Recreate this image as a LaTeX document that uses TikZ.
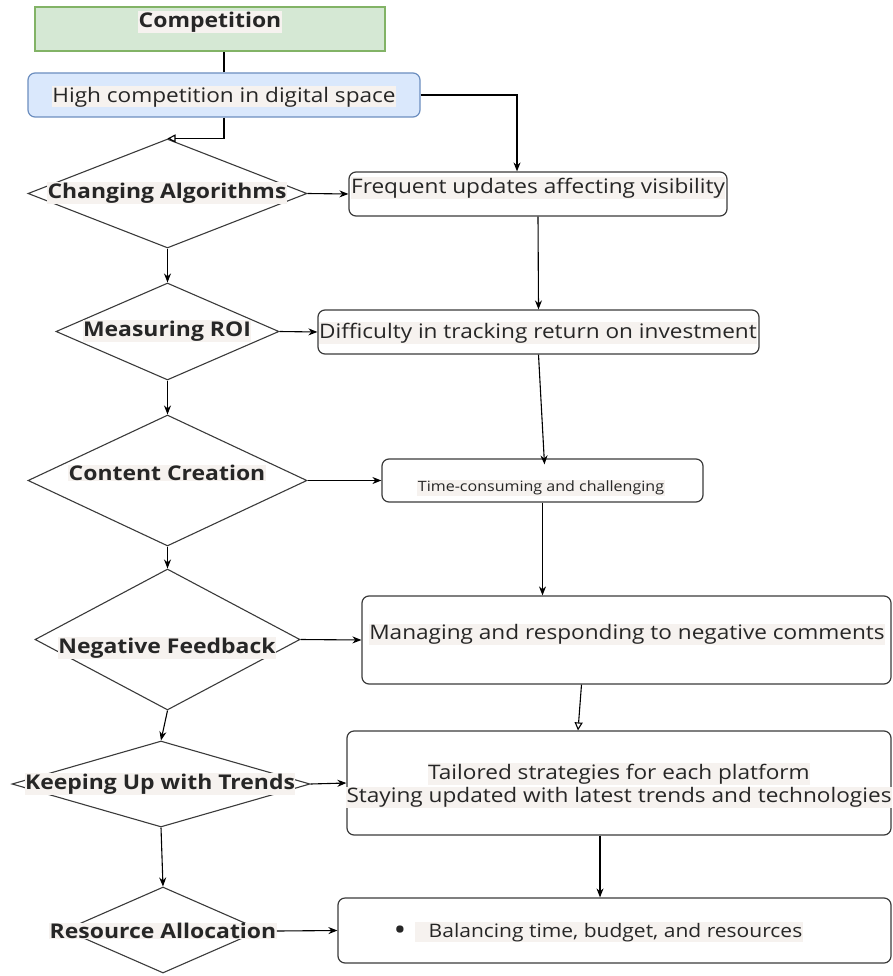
\documentclass[tikz,border=0pt]{standalone}
\usepackage{fontspec}
\setmainfont{Open Sans}[FakeStretch=1.13]
\usetikzlibrary{shapes.geometric,arrows.meta}
\definecolor{gfill}{HTML}{D5E8D4}
\definecolor{gline}{HTML}{82B366}
\definecolor{bfill}{HTML}{DAE8FC}
\definecolor{bline}{HTML}{6C8EBF}
\definecolor{lbg}{HTML}{F6F2EF}
\definecolor{edge}{HTML}{3A3A3A}
\begin{document}
\begin{tikzpicture}[x=1pt,y=-1pt,
  box/.style={draw=edge,line width=1.2pt,rounded corners=7pt,inner sep=0pt},
  dia/.style={draw=edge,line width=1.1pt,diamond,inner sep=0pt},
  lab/.style={fill=lbg,inner sep=0.5pt,text=black!85},
  blab/.style={lab,font=\bfseries\fontsize{20.3}{24}\selectfont},
  nlab/.style={lab,font=\fontsize{20}{24}\selectfont},
  arr/.style={-{Stealth[length=9pt,width=7pt]},line width=1.1pt,black},
  oarr/.style={-{Triangle[open,length=8pt,width=8pt]},line width=1.1pt,black},
  ln/.style={line width=1.1pt,black}]
\useasboundingbox (0,0) rectangle (893,976);
% boxes
\node[draw=gline,fill=gfill,line width=1.2pt,minimum width=350pt,minimum height=44pt,inner sep=0pt] (comp) at (210,29) {};
\node[box,draw=bline,fill=bfill,minimum width=392pt,minimum height=44pt] (hc) at (224,95) {};
\node[box,minimum width=378pt,minimum height=44pt] (f1) at (538,194) {};
\node[box,minimum width=441pt,minimum height=44pt] (f2) at (538.5,332) {};
\node[box,minimum width=321pt,minimum height=43pt] (f3) at (542.5,480.5) {};
\node[box,minimum width=529pt,minimum height=88pt] (f4) at (626.5,640) {};
\node[box,minimum width=544pt,minimum height=104pt] (f5) at (619,783) {};
\node[box,minimum width=553pt,minimum height=65pt] (f6) at (614.5,930.5) {};
% diamonds
\node[dia,minimum width=279pt,minimum height=109pt] (d1) at (167.5,193.5) {};
\node[dia,minimum width=223pt,minimum height=97pt] (d2) at (167.5,331.5) {};
\node[dia,minimum width=279pt,minimum height=131pt] (d3) at (167.5,480.5) {};
\node[dia,minimum width=265pt,minimum height=141pt] (d4) at (167.5,639.5) {};
\node[dia,minimum width=298pt,minimum height=86pt] (d5) at (161,784) {};
\node[dia,minimum width=196pt,minimum height=86pt] (d6) at (163,930) {};
% labels
\node[blab] (tcomp) at (210,22) {Competition};
\node[nlab] (thc) at (224,97) {High competition in digital space};
\node[blab] (td1) at (167,193) {Changing Algorithms};
\node[nlab] (tf1) at (538,188) {Frequent updates affecting visibility};
\node[blab] (td2) at (167,331) {Measuring ROI};
\node[nlab] (tf2) at (538,333) {Difficulty in tracking return on investment};
\node[blab] (td3) at (167,473) {Content Creation};
\node[lab,font=\fontsize{14.2}{17}\selectfont] (tf3) at (541,488) {Time-consuming and challenging};
\node[blab] (td4) at (167,648) {Negative Feedback};
\node[nlab] (tf4) at (627,634) {Managing and responding to negative comments};
\node[blab] (td5) at (160,784) {Keeping Up with Trends};
\node[nlab] (tf5a) at (619,774) {Tailored strategies for each platform};
\node[nlab] (tf5b) at (619,797) {Staying updated with latest trends and technologies};
\node[blab] (td6) at (163,931) {Resource Allocation};
\node[lab,font=\fontsize{18.6}{22}\selectfont,anchor=base west] (tf6) at (415,937) {\hspace{13pt}Balancing time, budget, and resources};
\node[font=\fontsize{30}{30}\selectfont,text=black!85,inner sep=0pt,anchor=base] (bul) at (400,940) {•};
% connectors
\draw[ln] (hc.north) -- (hc.north |- comp.south);
\draw[oarr] (hc.south) |- (d1.north);
\coordinate (f1in) at ([xshift=-21pt]f1.north);
\draw[arr] (hc.east) -| (f1in);
\draw[arr] (d1.east) -- (f1.west);
\draw[arr] (d1.south) -- (d2.north);
\draw[arr] (d2.east) -- (f2.west);
\draw[arr] (f1.south) -- (f2.north);
\draw[arr] (d2.south) -- (d3.north);
\draw[arr] (d3.east) -- (f3.west);
\coordinate (f3in) at ([xshift=2pt,yshift=-6pt]f3.north);
\draw[arr] (f2.south) -- (f3in);
\draw[arr] (f3.south) -- (f3.south |- f4.north);
\draw[arr] (d3.south) -- (d4.north);
\draw[arr] (d4.east) -- (f4.west);
\coordinate (f4out) at ([xshift=-45pt]f4.south);
\coordinate (f5in) at ([xshift=-41pt]f5.north);
\draw[oarr] (f4out) -- (f5in);
\draw[arr] (d4.south) -- (d5.north);
\draw[arr] (d5.east) -- (f5.west);
\coordinate (f5out) at ([xshift=-19pt]f5.south);
\draw[arr] (f5out) -- (f5out |- f6.north);
\draw[arr] (d5.south) -- (d6.north);
\draw[arr] (td6.east) -- (f6.west);
\end{tikzpicture}
\end{document}
